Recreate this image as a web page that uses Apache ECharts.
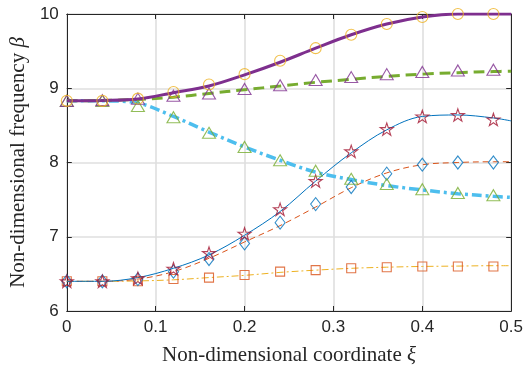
<!DOCTYPE html>
<html>
<head>
<meta charset="utf-8">
<script src="https://cdn.jsdelivr.net/npm/echarts@6/dist/echarts.min.js"></script>
<style>
html,body{margin:0;padding:0;background:#fff;}
#c{width:526px;height:371px;}
</style>
</head>
<body>
<div id="c"></div>
<script>
// Marker positions (numerical points)
var xs = [0, 0.04, 0.08, 0.12, 0.16, 0.20, 0.24, 0.28, 0.32, 0.36, 0.40, 0.44, 0.48];
// Curve positions (analytic lines)
var lineXs = [0, 0.04, 0.08, 0.12, 0.16, 0.20, 0.24, 0.28, 0.32, 0.36, 0.40, 0.44, 0.48, 0.50];

var purpleLine = [8.83, 8.835, 8.855, 8.94, 9.03, 9.18, 9.35, 9.54, 9.72, 9.865, 9.96, 10.0, 10.0, 10.0];
var circlePts  = [8.83, 8.83, 8.86, 8.95, 9.05, 9.19, 9.37, 9.54, 9.72, 9.865, 9.96, 10.0, 10.0];

var greenLine  = [8.83, 8.835, 8.85, 8.88, 8.93, 8.98, 9.03, 9.08, 9.12, 9.16, 9.19, 9.21, 9.225, 9.23];
var purpleTri  = [8.83, 8.84, 8.86, 8.90, 8.93, 8.99, 9.04, 9.11, 9.15, 9.19, 9.22, 9.24, 9.25];

var cyanLine   = [8.83, 8.83, 8.80, 8.62, 8.41, 8.21, 8.03, 7.87, 7.77, 7.69, 7.63, 7.58, 7.545, 7.53];
var greenTri   = [8.83, 8.83, 8.76, 8.61, 8.40, 8.21, 8.03, 7.89, 7.78, 7.71, 7.64, 7.59, 7.56];

var blueLine   = [6.4, 6.4, 6.45, 6.575, 6.755, 7.02, 7.34, 7.75, 8.13, 8.44, 8.62, 8.64, 8.60, 8.56];
var starPts    = [6.4, 6.4, 6.44, 6.57, 6.78, 7.04, 7.37, 7.75, 8.15, 8.45, 8.62, 8.64, 8.58];

var orangeLine = [6.4, 6.4, 6.43, 6.53, 6.71, 6.93, 7.15, 7.40, 7.66, 7.86, 7.97, 8.0, 8.01, 8.01];
var diamondPts = [6.4, 6.4, 6.43, 6.53, 6.70, 6.91, 7.19, 7.44, 7.67, 7.85, 7.97, 8.0, 8.0];

var yellowLine = [6.4, 6.4, 6.405, 6.42, 6.45, 6.48, 6.52, 6.55, 6.575, 6.59, 6.60, 6.605, 6.61, 6.61];
var squarePts  = [6.4, 6.4, 6.4, 6.43, 6.45, 6.485, 6.53, 6.55, 6.575, 6.59, 6.60, 6.60, 6.60];

var xTicks = [0, 0.1, 0.2, 0.3, 0.4, 0.5];
var yTicks = [6, 7, 8, 9, 10];
var xNameText = 'Non-dimensional coordinate ';
var xNameSym = 'ξ';
var yNameText = 'Non-dimensional frequency ';
var yNameSym = 'β';

function pairs(xv, yv) { return yv.map(function (v, i) { return [xv[i], v]; }); }

var STAR = 'path://M50,0 L61.2,34.5 L97.6,34.5 L68.2,55.9 L79.4,90.5 L50,69.1 L20.6,90.5 L31.8,55.9 L2.4,34.5 L38.8,34.5 Z';

function lineSeries(data, color, width, type) {
  return {
    type: 'line', data: pairs(lineXs, data), smooth: 0.35, showSymbol: false,
    symbol: 'none', silent: true, animation: false,
    lineStyle: { color: color, width: width, type: type }, z: 2
  };
}
function markSeries(data, symbol, size, color, keep) {
  return {
    type: 'scatter', data: pairs(xs, data), symbol: symbol, symbolSize: size,
    symbolKeepAspect: !!keep, animation: false, silent: true,
    itemStyle: { color: 'rgba(0,0,0,0)', borderColor: color, borderWidth: 1.1 }, z: 3
  };
}

var chart = echarts.init(document.getElementById('c'), null, { renderer: 'canvas' });
var tickFont = { fontFamily: 'Liberation Sans, Arial, sans-serif', fontSize: 17, color: '#262626' };
var serif = 'Liberation Serif, Times New Roman, serif';
var nameFont = {
  fontFamily: serif, fontSize: 21, color: '#262626',
  rich: {
    a: { fontFamily: serif, fontSize: 21, color: '#262626' },
    b: { fontFamily: serif, fontSize: 21, color: '#262626', fontStyle: 'italic' }
  }
};

chart.setOption({
  backgroundColor: '#ffffff',
  animation: false,
  grid: { left: 64, right: 14, top: 14, bottom: 60, show: false },
  xAxis: [{
    type: 'value', min: xTicks[0], max: xTicks[xTicks.length - 1], interval: 0.1,
    name: '{a|' + xNameText + '}{b|' + xNameSym + '}', nameLocation: 'middle', nameGap: 34, nameTextStyle: nameFont,
    axisLine: { show: true, onZero: false, lineStyle: { color: '#262626', width: 1 } },
    axisTick: { show: true, inside: true, length: 5, lineStyle: { color: '#262626' } },
    axisLabel: Object.assign({ margin: 8, formatter: function (v) { return v === 0 ? '0' : v.toFixed(1); } }, tickFont),
    splitLine: { show: true, lineStyle: { color: '#dfdfdf', width: 1.6 } }
  }, {
    type: 'value', position: 'top', min: 0, max: 0.5, interval: 0.1,
    axisLine: { show: true, onZero: false, lineStyle: { color: '#262626', width: 1 } },
    axisTick: { show: true, inside: true, length: 5, lineStyle: { color: '#262626' } },
    axisLabel: { show: false }, splitLine: { show: false }
  }],
  yAxis: [{
    type: 'value', min: yTicks[0], max: yTicks[yTicks.length - 1], interval: 1,
    name: '{a|' + yNameText + '}{b|' + yNameSym + '}', nameLocation: 'middle', nameGap: 32, nameRotate: 90, nameTextStyle: nameFont,
    axisLine: { show: true, onZero: false, lineStyle: { color: '#262626', width: 1 } },
    axisTick: { show: true, inside: true, length: 5, lineStyle: { color: '#262626' } },
    axisLabel: Object.assign({ margin: 8 }, tickFont),
    splitLine: { show: true, lineStyle: { color: '#dfdfdf', width: 1.6 } }
  }, {
    type: 'value', position: 'right', min: 6, max: 10, interval: 1,
    axisLine: { show: true, onZero: false, lineStyle: { color: '#262626', width: 1 } },
    axisTick: { show: true, inside: true, length: 5, lineStyle: { color: '#262626' } },
    axisLabel: { show: false }, splitLine: { show: false }
  }],
  series: [
    lineSeries(yellowLine, '#EDB120', 1, [7, 3, 2, 3]),
    lineSeries(orangeLine, '#D95319', 1, [6, 4]),
    lineSeries(blueLine, '#0072BD', 1, 'solid'),
    lineSeries(cyanLine, '#4DBEEE', 3.5, [10, 4, 3, 4]),
    lineSeries(greenLine, '#77AC30', 3, [11, 6]),
    lineSeries(purpleLine, '#7E2F8E', 3, 'solid'),
    markSeries(squarePts, 'rect', 9, '#D95319'),
    markSeries(diamondPts, 'diamond', [10, 13], '#0072BD'),
    markSeries(starPts, STAR, 13, '#A2142F', true),
    markSeries(greenTri, 'triangle', [13, 11], '#77AC30'),
    markSeries(purpleTri, 'triangle', [13, 11], '#7E2F8E'),
    markSeries(circlePts, 'circle', 11, '#EDB120')
  ]
});
</script>
</body>
</html>
